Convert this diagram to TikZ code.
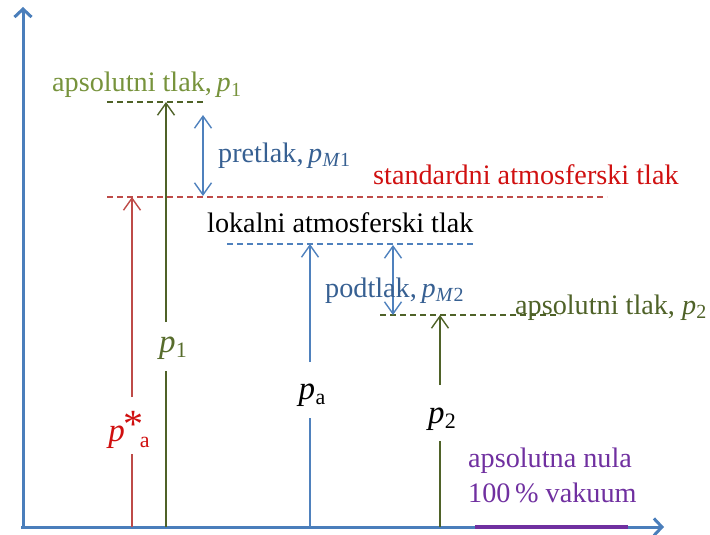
\documentclass[tikz,border=0pt]{standalone}
\usepackage{fontspec}
\setmainfont{Liberation Serif}
\usetikzlibrary{arrows.meta}
\definecolor{axblue}{HTML}{4A7EBB}
\definecolor{lnblue}{HTML}{4F81BD}
\definecolor{txblue}{HTML}{376092}
\definecolor{olivedk}{HTML}{4F6228}
\definecolor{olivelt}{HTML}{77933C}
\definecolor{redln}{HTML}{BE4B48}
\definecolor{redtx}{HTML}{D01010}
\definecolor{purp}{HTML}{7030A0}
\newcommand{\psub}[2]{\textit{p}\kern0.3pt\raisebox{-0.35ex}{\fontsize{#2}{#2}\selectfont #1}}
\tikzset{
  axis/.style={draw=axblue, line width=3pt, -{Straight Barb[length=8pt,width=17pt,line width=3pt]}},
  vline/.style={line width=1.4pt},
  tip/.style={-{Straight Barb[length=12pt,width=17pt,line width=1.4pt]}},
  dtip/.style={{Straight Barb[length=12pt,width=17pt,line width=1.4pt]}-{Straight Barb[length=12pt,width=17pt,line width=1.4pt]}},
  dline/.style={line width=1.2pt, dash pattern=on 6pt off 4pt},
  lbl/.style={inner sep=0pt, anchor=base west, font=\fontsize{28.2}{31}\selectfont},
  plbl/.style={inner sep=0pt, font=\fontsize{33}{36}\selectfont},
}
\begin{document}
\begin{tikzpicture}[x=1pt,y=-1pt]
\useasboundingbox (0,0) rectangle (710,535);
% axes
\coordinate (O) at (23,527);
\coordinate (Ytop) at (23,7);
\coordinate (Xend) at (664,527);
\coordinate (O2) at (21,527);
\draw[axis] (O) -- (Ytop);
\draw[axis] (O2) -- (Xend);
\coordinate (nulA) at (475,527);
\coordinate (nulB) at (628,527);
\draw[draw=purp, line width=4pt] (nulA) -- (nulB);

% dashed levels
\coordinate (g1a) at (107,102); \coordinate (g1b) at (203,102);
\draw[dline, draw=olivedk] (g1a) -- (g1b);
\coordinate (ra) at (107,197); \coordinate (rb) at (607,197);
\draw[dline, draw=redln] (ra) -- (rb);
\coordinate (ba) at (227,244); \coordinate (bb) at (475,244);
\draw[dline, draw=lnblue] (ba) -- (bb);
\coordinate (g2a) at (380,315); \coordinate (g2b) at (560,315);
\draw[dline, draw=olivedk] (g2a) -- (g2b);

% p1 arrow
\coordinate (p1b) at (166,527); \coordinate (p1l) at (166,371);
\coordinate (p1u) at (166,322); \coordinate (p1t) at (166,102);
\draw[vline, draw=olivedk] (p1b) -- (p1l);
\draw[vline, tip, draw=olivedk] (p1u) -- (p1t);
\node[plbl, text=olivedk!80!olivelt] (p1lab) at (173,348) {\psub{1}{22}};

% p*a arrow
\coordinate (pab) at (132,527); \coordinate (pal) at (132,454);
\coordinate (pau) at (132,397); \coordinate (pat) at (132,197);
\draw[vline, draw=redln] (pab) -- (pal);
\draw[vline, tip, draw=redln] (pau) -- (pat);
\node[plbl, text=redtx] (pastar) at (129,430) {\textit{p}\kern-1pt\raisebox{0.3ex}{\fontsize{40}{40}\selectfont *}\kern-4pt\raisebox{-0.35ex}{\fontsize{22}{22}\selectfont a}};

% pa arrow
\coordinate (pob) at (310,527); \coordinate (pol) at (310,418);
\coordinate (pou) at (310,362); \coordinate (pot) at (310,244);
\draw[vline, draw=lnblue] (pob) -- (pol);
\draw[vline, tip, draw=lnblue] (pou) -- (pot);
\node[plbl, text=black] (palab) at (312,395) {\psub{a}{22}};

% p2 arrow
\coordinate (q2b) at (440,527); \coordinate (q2l) at (440,441);
\coordinate (q2u) at (440,385); \coordinate (q2t) at (440,315);
\draw[vline, draw=olivedk] (q2b) -- (q2l);
\draw[vline, tip, draw=olivedk] (q2u) -- (q2t);
\node[plbl, text=black] (p2lab) at (442,419) {\psub{2}{22}};

% gauge double arrows
\coordinate (m1a) at (203,115); \coordinate (m1b) at (203,196);
\draw[vline, dtip, draw=lnblue] (m1a) -- (m1b);
\coordinate (m2a) at (393,245); \coordinate (m2b) at (393,315);
\draw[vline, dtip, draw=lnblue] (m2a) -- (m2b);

% texts
\node[lbl, text=olivelt] (abs1) at (52,92) {apsolutni tlak,\,\psub{1}{20}};
\node[lbl, text=txblue] (pret) at (218,162) {pretlak,\,\psub{\textit{M}1}{20}};
\node[lbl, text=redtx] (std) at (373,184) {standardni atmosferski tlak};
\node[lbl, text=black] (lok) at (207,232) {lokalni atmosferski tlak};
\node[lbl, text=txblue] (podt) at (325,297) {podtlak,\,\psub{\textit{M}2}{20}};
\node[lbl, text=olivedk] (abs2) at (515,314) {apsolutni tlak, \psub{2}{20}};
\node[lbl, text=purp] (nula) at (468,467) {apsolutna nula};
\node[lbl, text=purp] (vak) at (468,502) {100\,\% vakuum};
\end{tikzpicture}
\end{document}
